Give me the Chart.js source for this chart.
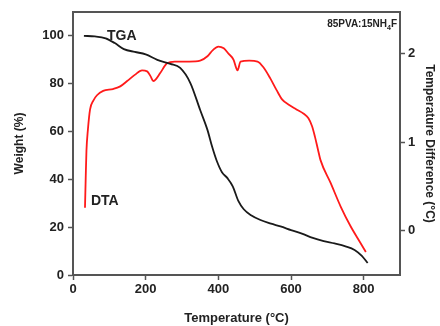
<!DOCTYPE html>
<html>
<head>
<meta charset="utf-8">
<script src="https://cdn.jsdelivr.net/npm/chart.js@4"></script>
<style>
  html, body { margin: 0; padding: 0; background: #fff; }
  #wrap { width: 440px; height: 326px; }
</style>
</head>
<body>
<div id="wrap"><canvas id="tgaChart" width="440" height="326"></canvas></div>
<script>
// TGA curve: temperature (°C) vs weight (%)
const tgaTemp = [30, 60, 90, 115, 140, 170, 200, 232, 268, 295, 323, 350, 370, 383, 395, 410, 425, 440, 455, 470, 490, 516, 545, 571, 600, 630, 660, 690, 720, 750, 775, 795, 811];
const tgaWeight = [100, 99.8, 99, 97, 94.5, 93.3, 92.3, 90, 88.3, 86.6, 80.3, 69, 60.7, 53.6, 48, 43, 40.5, 37, 31, 27.5, 25, 23, 21.5, 20.3, 18.8, 17.3, 15.5, 14.2, 13.2, 12, 10.5, 8, 5];

// DTA curve: temperature (°C) vs temperature difference (°C)
const dtaTemp = [33, 35, 37, 41, 47, 56, 66, 83, 110, 130, 149, 170, 190, 204, 214, 221, 230, 240, 259, 280, 320, 350, 370, 385, 400, 415, 428, 442, 449, 453, 461, 485, 508, 525, 543, 560, 576, 595, 615, 635, 648, 658, 666, 674, 681, 709, 737, 764, 790, 806];
const dtaDiff = [0.26, 0.6, 0.9, 1.14, 1.37, 1.47, 1.53, 1.58, 1.60, 1.63, 1.69, 1.76, 1.81, 1.80, 1.74, 1.69, 1.72, 1.78, 1.89, 1.91, 1.91, 1.92, 1.97, 2.04, 2.08, 2.06, 2.0, 1.93, 1.84, 1.81, 1.91, 1.92, 1.91, 1.84, 1.72, 1.59, 1.48, 1.42, 1.37, 1.32, 1.27, 1.18, 1.06, 0.92, 0.80, 0.54, 0.27, 0.05, -0.13, -0.24];

// tick labels
const xTicks = [0, 200, 400, 600, 800];
const weightTicks = [0, 20, 40, 60, 80, 100];
const diffTicks = [0, 1, 2];

const toPoints = (xs, ys) => xs.map((x, i) => ({ x: x, y: ys[i] }));

const axisColor = "#555";
const tickFont = { family: "'Liberation Sans', Arial, sans-serif", size: 13, weight: "bold" };
const titleFont = { family: "'Liberation Sans', Arial, sans-serif", size: 12, weight: "bold" };

// frame top line + curve labels + sample name
const annotations = {
    id: "annotations",
    afterDraw(chart) {
        const ctx = chart.ctx;
        const area = chart.chartArea;
        ctx.save();
        ctx.strokeStyle = axisColor;
        ctx.lineWidth = 2;
        ctx.beginPath();
        ctx.moveTo(area.left, area.top);
        ctx.lineTo(area.right, area.top);
        ctx.stroke();

        ctx.fillStyle = "#222";
        ctx.textBaseline = "middle";
        ctx.font = "bold 14px 'Liberation Sans', Arial, sans-serif";
        ctx.textAlign = "left";
        ctx.fillText("TGA", 107, 36);
        ctx.fillText("DTA", 91, 201);

        // 85PVA:15NH4F with subscript
        const big = "bold 10px 'Liberation Sans', Arial, sans-serif";
        const small = "bold 7px 'Liberation Sans', Arial, sans-serif";
        ctx.font = big;
        const w1 = ctx.measureText("85PVA:15NH").width;
        const w3 = ctx.measureText("F").width;
        ctx.font = small;
        const w2 = ctx.measureText("4").width;
        let x = 397 - (w1 + w2 + w3);
        ctx.font = big;
        ctx.fillText("85PVA:15NH", x, 24);
        x += w1;
        ctx.font = small;
        ctx.fillText("4", x, 28);
        x += w2;
        ctx.font = big;
        ctx.fillText("F", x, 24);
        ctx.restore();
    }
};

new Chart(document.getElementById("tgaChart").getContext("2d"), {
    type: "line",
    data: {
        datasets: [
            {
                label: "TGA",
                data: toPoints(tgaTemp, tgaWeight),
                yAxisID: "y",
                borderColor: "#1a1a1a",
                borderWidth: 1.8,
                pointRadius: 0,
                cubicInterpolationMode: "monotone",
            },
            {
                label: "DTA",
                data: toPoints(dtaTemp, dtaDiff),
                yAxisID: "y1",
                borderColor: "#ff1a1a",
                borderWidth: 1.8,
                pointRadius: 0,
                cubicInterpolationMode: "monotone",
            },
        ],
    },
    options: {
        responsive: false,
        animation: false,
        layout: { padding: { top: 12, left: 0, right: 0, bottom: 0 } },
        plugins: {
            legend: { display: false },
            tooltip: { enabled: false },
        },
        scales: {
            x: {
                type: "linear",
                min: 0,
                max: 900,
                afterFit: s => { s.height = 51; },
                afterBuildTicks: s => { s.ticks = xTicks.map(v => ({ value: v })); },
                border: { color: axisColor, width: 2 },
                grid: { drawOnChartArea: false, color: axisColor, tickLength: 5, tickWidth: 1.5 },
                ticks: { color: "#222", font: tickFont, padding: 2, maxRotation: 0 },
                title: { display: true, text: "Temperature (°C)", color: "#222", font: { ...titleFont, size: 13 }, padding: { top: 0, bottom: 0 } },
            },
            y: {
                position: "left",
                min: 0,
                max: 110,
                afterFit: s => { s.width = 73; },
                afterBuildTicks: s => { s.ticks = weightTicks.map(v => ({ value: v })); },
                border: { color: axisColor, width: 2 },
                grid: { drawOnChartArea: false, color: axisColor, tickLength: 5, tickWidth: 1.5 },
                ticks: { color: "#222", font: tickFont, padding: 4 },
                title: { display: true, text: "Weight (%)", color: "#222", font: titleFont, padding: { top: 12, bottom: 0 } },
            },
            y1: {
                position: "right",
                min: -0.5,
                max: 2.47,
                afterFit: s => { s.width = 40; },
                afterBuildTicks: s => { s.ticks = diffTicks.map(v => ({ value: v })); },
                border: { color: axisColor, width: 2 },
                grid: { drawOnChartArea: false, color: axisColor, tickLength: 5, tickWidth: 1.5 },
                ticks: { color: "#222", font: tickFont, padding: 3 },
                title: { display: true, text: "Temperature Difference (°C)", color: "#222", font: titleFont, padding: { top: 3, bottom: 0 } },
            },
        },
    },
    plugins: [annotations],
});
</script>
</body>
</html>
